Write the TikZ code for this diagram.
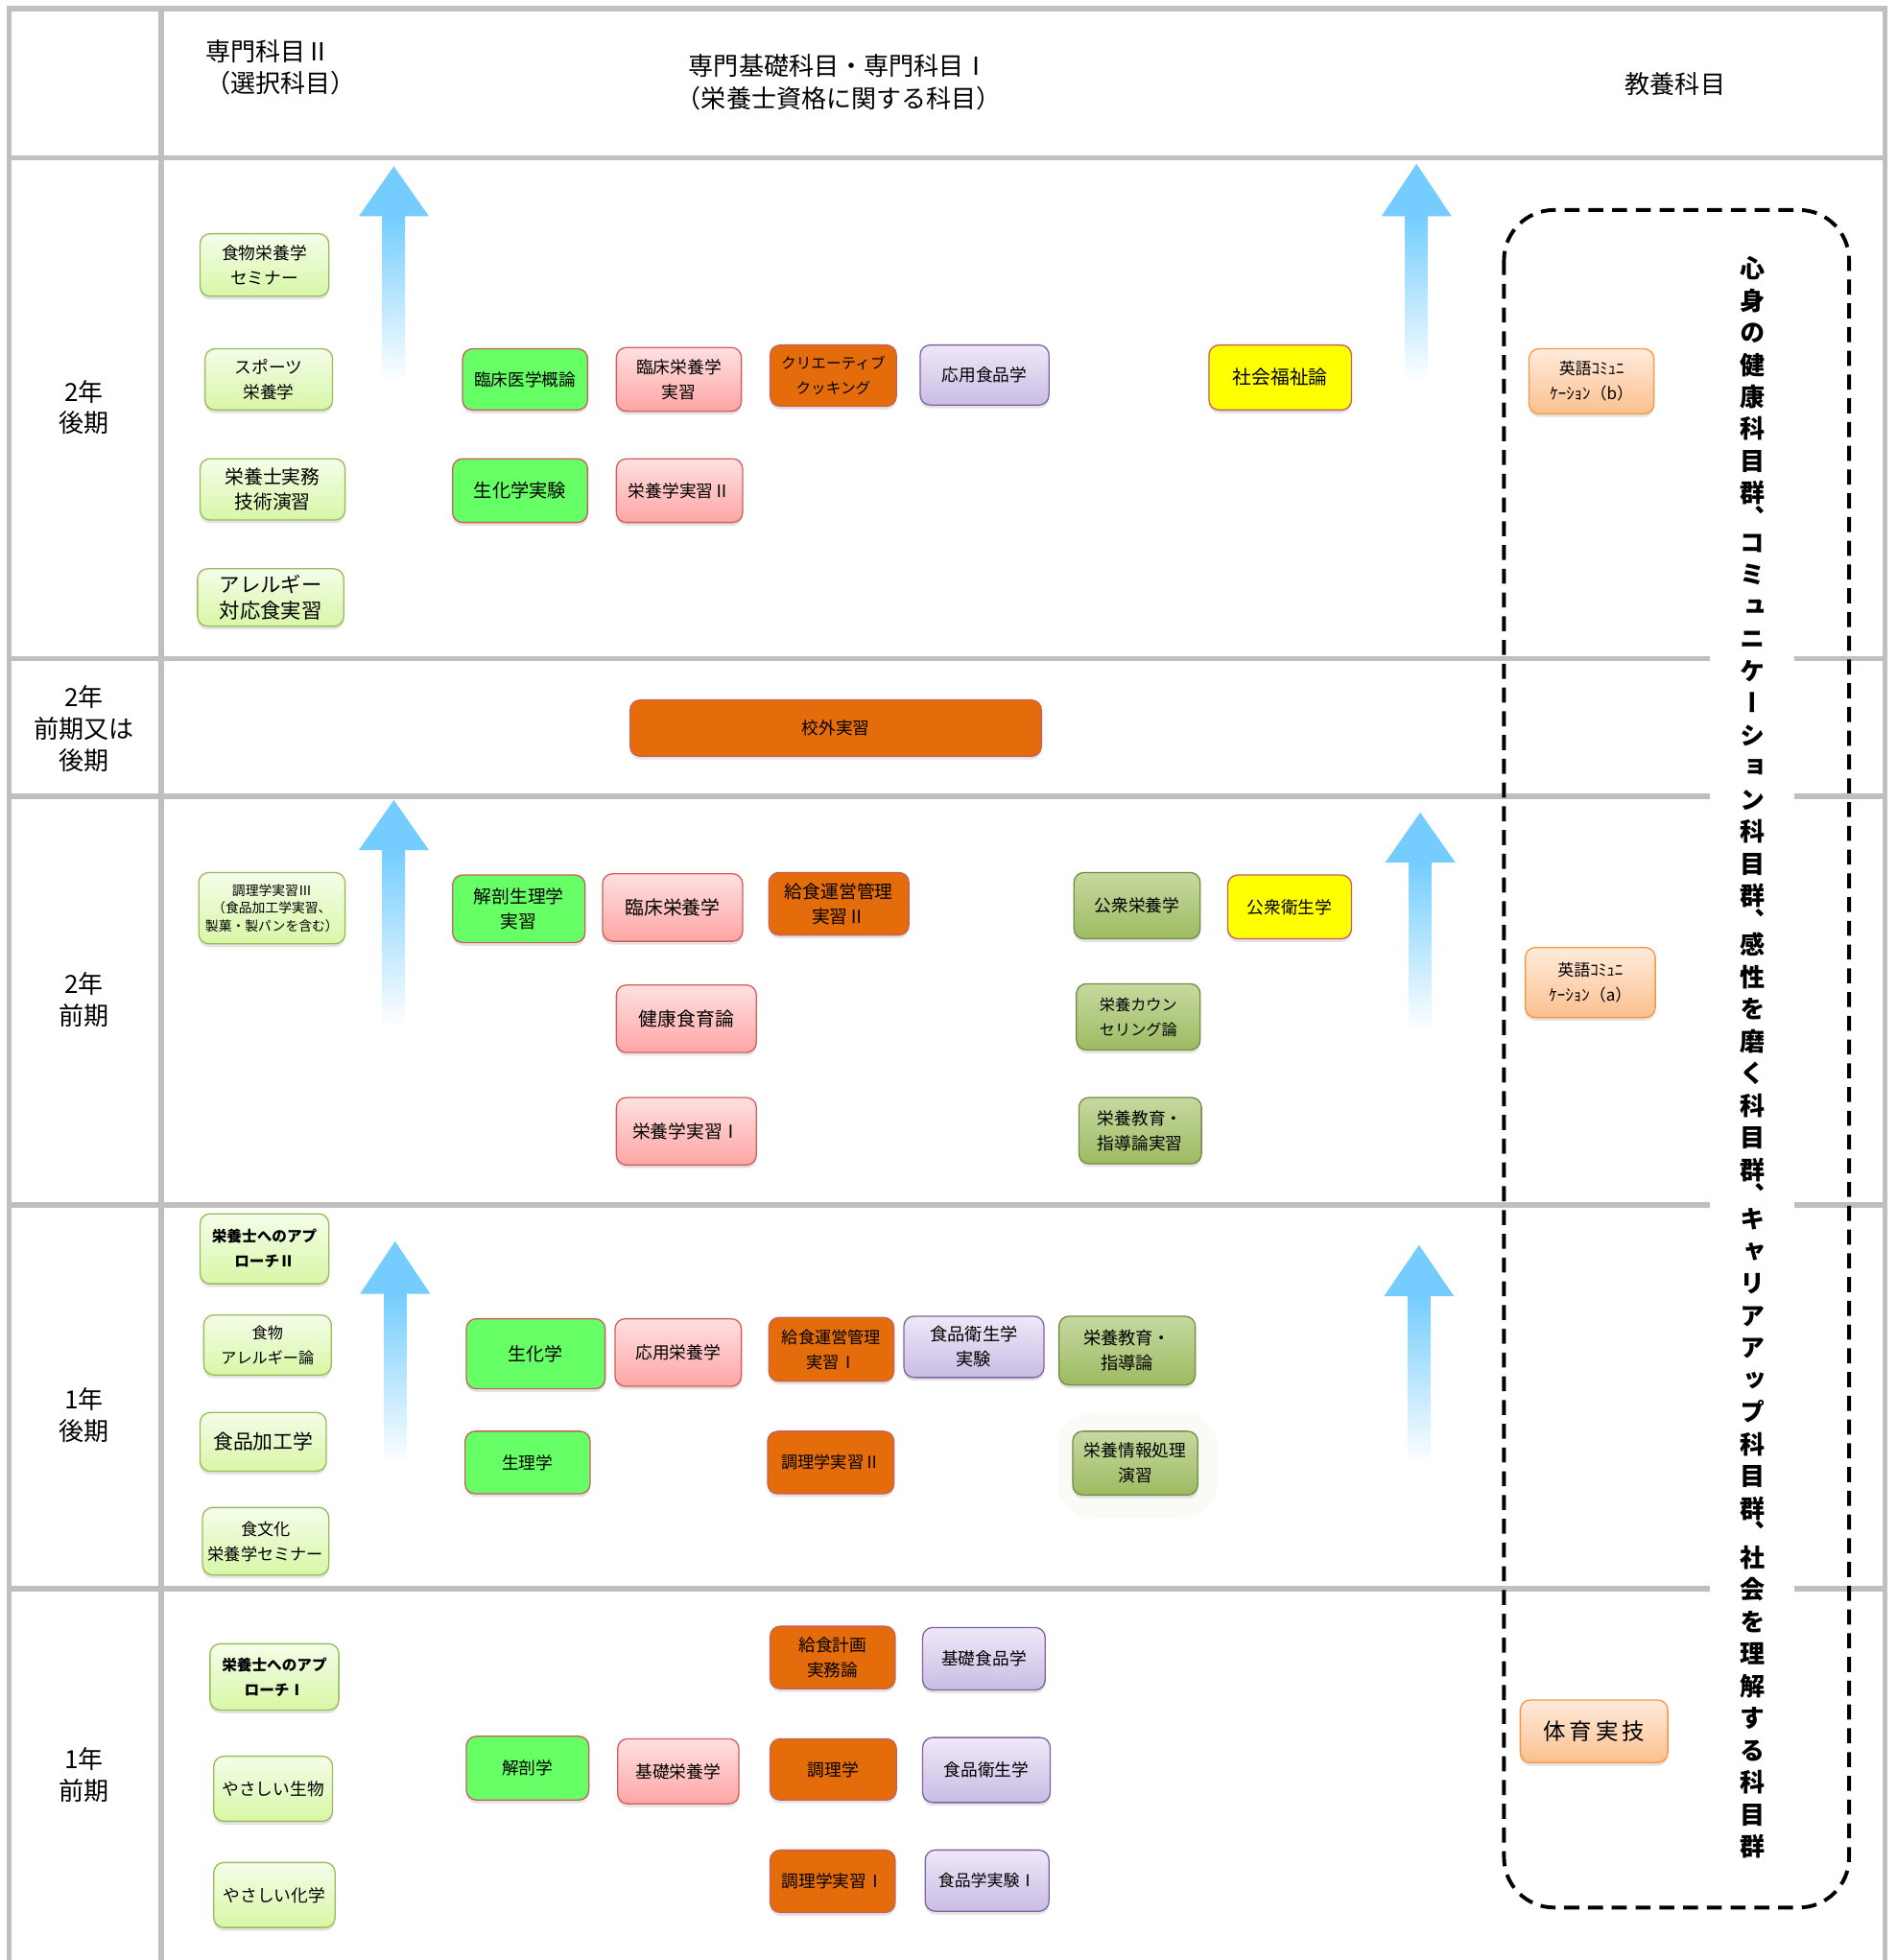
\documentclass[tikz,border=0pt]{standalone}
\usepackage{fontspec}
\setmainfont{Noto Sans CJK JP}
\newfontfamily\vfont[RawFeature=+vert]{Noto Sans CJK JP}
\usetikzlibrary{shadows}
\definecolor{gridc}{HTML}{BFBFBF}
\definecolor{lgT}{HTML}{F4FDE9}
\definecolor{lgBot}{HTML}{D8F7A6}
\definecolor{lgD}{HTML}{9BBB59}
\definecolor{grn}{HTML}{66FF66}
\definecolor{redD}{HTML}{C8605C}
\definecolor{pkT}{HTML}{FFE0E0}
\definecolor{pkBot}{HTML}{FFA5A5}
\definecolor{pkD}{HTML}{D0605C}
\definecolor{org}{HTML}{E46C0A}
\definecolor{lvT}{HTML}{EEE8F7}
\definecolor{lvBot}{HTML}{C9BCE4}
\definecolor{lvD}{HTML}{8064A2}
\definecolor{olT}{HTML}{C6D9A0}
\definecolor{olBot}{HTML}{9DBB61}
\definecolor{olD}{HTML}{748C48}
\definecolor{yel}{HTML}{FFFF00}
\definecolor{pcT}{HTML}{FFEBDC}
\definecolor{pcBot}{HTML}{FBC08E}
\definecolor{pcD}{HTML}{F79646}
\definecolor{arrc}{HTML}{74CDFE}
\definecolor{glowc}{HTML}{FAFAF6}
\tikzset{
 bxb/.style={draw, rounded corners=4pt, align=center, inner sep=1pt, line width=0.5pt, text=black,
   font=\fontsize{6.8pt}{10pt}\selectfont,
   drop shadow={shadow xshift=0pt, shadow yshift=-1.3pt, opacity=0.22}},
 fs/.style={font=\fontsize{#1}{10pt}\selectfont},
 fsb/.style={font=\fontsize{#1}{10pt}\selectfont\bfseries},
 lg/.style={bxb, draw=lgD, top color=lgT, bottom color=lgBot},
 gr/.style={bxb, draw=redD, fill=grn},
 pk/.style={bxb, draw=pkD, top color=pkT, bottom color=pkBot},
 og/.style={bxb, draw=redD, fill=org},
 lv/.style={bxb, draw=lvD, top color=lvT, bottom color=lvBot},
 ol/.style={bxb, draw=olD, top color=olT, bottom color=olBot},
 yw/.style={bxb, draw=redD, fill=yel},
 pc/.style={bxb, draw=pcD, top color=pcT, bottom color=pcBot},
 gridl/.style={draw=gridc, line width=2pt},
 hdr/.style={font=\fontsize{10pt}{12.8pt}\selectfont, align=center, inner sep=0pt},
}
\newcommand\crsbox[7]{\node[#1,minimum width={(#5-#3)*0.5pt},minimum height={(#6-#4)*0.5pt}] (#2) at ({(#3+#5)/2},{(#4+#6)/2}) {#7};}
\newcommand\uparr[4]{%
  \shade[top color=arrc, bottom color=white] ({#1-9},#3) rectangle ({#1+9},#4);
  \fill[arrc] ({#1-28},#3) -- ({#1+28},#3) -- (#1,#2) -- cycle;}
\begin{document}
\begin{tikzpicture}[x=0.5pt,y=-0.5pt]
\useasboundingbox[fill=white] (0,0) rectangle (1517,1568);
% grid
\draw[gridl, line width=2.5pt] (5,7) -- (1510,7);
\draw[gridl] (7,5) -- (7,1568);
\draw[gridl] (1508,5) -- (1508,1568);
\draw[gridl] (129,7) -- (129,1568);
\draw[gridl] (7,126) -- (1508,126);
\foreach \yy in {527,637,964,1271}{
  \draw[gridl] (7,\yy) -- (1368,\yy);
  \draw[gridl] (1435,\yy) -- (1508,\yy);
}
% headers
\node[hdr, align=left, anchor=west] (h2) at (164,54) {専門科目Ⅱ\\（選択科目）};
\node[hdr, font=\fontsize{10pt}{13pt}\selectfont] (h1) at (671,66) {専門基礎科目・専門科目Ⅰ\\（栄養士資格に関する科目）};
\node[hdr] (h3) at (1340,67) {教養科目};
% row labels
\node[hdr, font=\fontsize{10pt}{12.5pt}\selectfont] (r1) at (67,326) {2年\\後期};
\node[hdr, font=\fontsize{10pt}{12.5pt}\selectfont] (r2) at (67,583) {2年\\前期又は\\後期};
\node[hdr, font=\fontsize{10pt}{12.5pt}\selectfont] (r3) at (67,800) {2年\\前期};
\node[hdr, font=\fontsize{10pt}{12.5pt}\selectfont] (r4) at (67,1132) {1年\\後期};
\node[hdr, font=\fontsize{10pt}{12.5pt}\selectfont] (r5) at (67,1420) {1年\\前期};
% arrows
\uparr{315}{133}{173}{305}
\uparr{1133}{131}{173}{305}
\uparr{315}{640}{680}{822}
\uparr{1136}{650}{690}{825}
\uparr{316}{993}{1035}{1172}
\uparr{1135}{996}{1037}{1172}
% glow
\fill[glowc, rounded corners=14pt] (846,1130) rectangle (974,1214);
% 2nen kouki
\crsbox{lg}{s1}{160}{187}{263}{237}{食物栄養学\\セミナー}
\crsbox{lg}{s2}{164}{279}{266}{328}{スポーツ\\栄養学}
\crsbox{lg,fs=7.6pt}{s3}{160}{367}{276}{416}{栄養士実務\\技術演習}
\crsbox{lg,fs=8.2pt}{s4}{158}{455}{275}{501}{アレルギー\\対応食実習}
\crsbox{gr}{c1}{370}{279}{470}{328}{臨床医学概論}
\crsbox{pk}{c2}{493}{278}{593}{329}{臨床栄養学\\実習}
\crsbox{og,fs=6pt}{c3}{616}{276}{717}{325}{クリエーティブ\\クッキング}
\crsbox{lv}{c4}{736}{276}{839}{324}{応用食品学}
\crsbox{yw,fs=7.6pt}{c5}{967}{276}{1081}{328}{社会福祉論}
\crsbox{gr,fs=7.4pt}{c6}{362}{367}{470}{418}{生化学実験}
\crsbox{pk}{c7}{493}{367}{594}{418}{栄養学実習Ⅱ}
\crsbox{pc,fs=6.5pt}{e1}{1223}{279}{1323}{331}{英語ｺﾐｭﾆ\\ｹｰｼｮﾝ（b）}
% 2nen zenki mata wa kouki
\crsbox{og}{c8}{504}{560}{833}{605}{校外実習}
% 2nen zenki
\crsbox{lg,font=\fontsize{5.3pt}{7.2pt}\selectfont}{t1}{159}{698}{276}{755}{調理学実習Ⅲ\\（食品加工学実習、\\製菓・製パンを含む）}
\crsbox{gr,fs=7.2pt}{d1}{362}{700}{468}{754}{解剖生理学\\実習}
\crsbox{pk,fs=7.6pt}{d2}{482}{699}{594}{753}{臨床栄養学}
\crsbox{og,fs=7.2pt}{d3}{615}{698}{727}{748}{給食運営管理\\実習Ⅱ}
\crsbox{ol}{d4}{859}{698}{960}{751}{公衆栄養学}
\crsbox{yw}{d5}{982}{700}{1081}{751}{公衆衛生学}
\crsbox{pk,fs=7.6pt}{d6}{493}{788}{605}{842}{健康食育論}
\crsbox{ol,fs=6.2pt}{d7}{861}{787}{960}{840}{栄養カウン\\セリング論}
\crsbox{pk,fs=7.2pt}{d8}{493}{878}{605}{932}{栄養学実習Ⅰ}
\crsbox{ol}{d9}{863}{878}{961}{931}{栄養教育・\\指導論実習}
\crsbox{pc,fs=6.5pt}{e2}{1220}{758}{1324}{814}{英語ｺﾐｭﾆ\\ｹｰｼｮﾝ（a）}
% 1nen kouki
\crsbox{lg,fsb=6pt}{f1}{160}{971}{263}{1027}{栄養士へのアプ\\ローチⅡ}
\crsbox{lg,fs=6.2pt}{f2}{163}{1052}{265}{1100}{食物\\アレルギー論}
\crsbox{lg,fs=8pt}{f3}{160}{1130}{261}{1177}{食品加工学}
\crsbox{lg,fs=6.6pt}{f4}{162}{1206}{263}{1260}{食文化\\栄養学セミナー}
\crsbox{gr,fs=7.3pt}{g1}{373}{1055}{484}{1111}{生化学}
\crsbox{pk}{g2}{492}{1055}{593}{1109}{応用栄養学}
\crsbox{og,fs=6.6pt}{g3}{615}{1054}{715}{1105}{給食運営管理\\実習Ⅰ}
\crsbox{lv,fs=7pt}{g4}{723}{1053}{835}{1102}{食品衛生学\\実験}
\crsbox{ol,fs=7pt}{g5}{847}{1053}{956}{1108}{栄養教育・\\指導論}
\crsbox{gr}{g6}{372}{1145}{472}{1195}{生理学}
\crsbox{og,fs=6.6pt}{g7}{614}{1145}{715}{1195}{調理学実習Ⅱ}
\crsbox{ol}{g8}{858}{1145}{958}{1196}{栄養情報処理\\演習}
% 1nen zenki
\crsbox{lg,fsb=6pt}{k1}{168}{1315}{271}{1368}{栄養士へのアプ\\ローチⅠ}
\crsbox{lg}{k2}{171}{1405}{266}{1457}{やさしい生物}
\crsbox{lg}{k3}{171}{1490}{268}{1542}{やさしい化学}
\crsbox{gr}{k4}{373}{1389}{471}{1440}{解剖学}
\crsbox{pk}{k5}{494}{1391}{591}{1443}{基礎栄養学}
\crsbox{og}{k6}{616}{1301}{716}{1351}{給食計画\\実務論}
\crsbox{lv}{k7}{738}{1302}{836}{1352}{基礎食品学}
\crsbox{og}{k8}{616}{1391}{717}{1440}{調理学}
\crsbox{lv}{k9}{738}{1390}{840}{1442}{食品衛生学}
\crsbox{og}{k10}{616}{1480}{716}{1530}{調理学実習Ⅰ}
\crsbox{lv,fs=6.5pt}{k11}{740}{1480}{839}{1529}{食品学実験Ⅰ}
\crsbox{pc,fs=9pt}{e3}{1216}{1360}{1334}{1410}{体\,育\,実\,技}
% dashed group
\draw[line width=1.5pt, dash pattern=on 6pt off 3.5pt, rounded corners=20pt] (1203,168) rectangle (1479,1526);
\node[font=\fontsize{10pt}{12.85pt}\selectfont\vfont\bfseries, align=center, inner sep=0pt] (vt) at (1402,846)
 {心\\身\\の\\健\\康\\科\\目\\群\\[-3pt]、\\[-3pt]コ\\ミ\\ュ\\ニ\\ケ\\ー\\シ\\ョ\\ン\\科\\目\\群\\[-3pt]、\\[-3pt]感\\性\\を\\磨\\く\\科\\目\\群\\[-3pt]、\\[-3pt]キ\\ャ\\リ\\ア\\ア\\ッ\\プ\\科\\目\\群\\[-3pt]、\\[-3pt]社\\会\\を\\理\\解\\す\\る\\科\\目\\群};
\end{tikzpicture}
\end{document}
